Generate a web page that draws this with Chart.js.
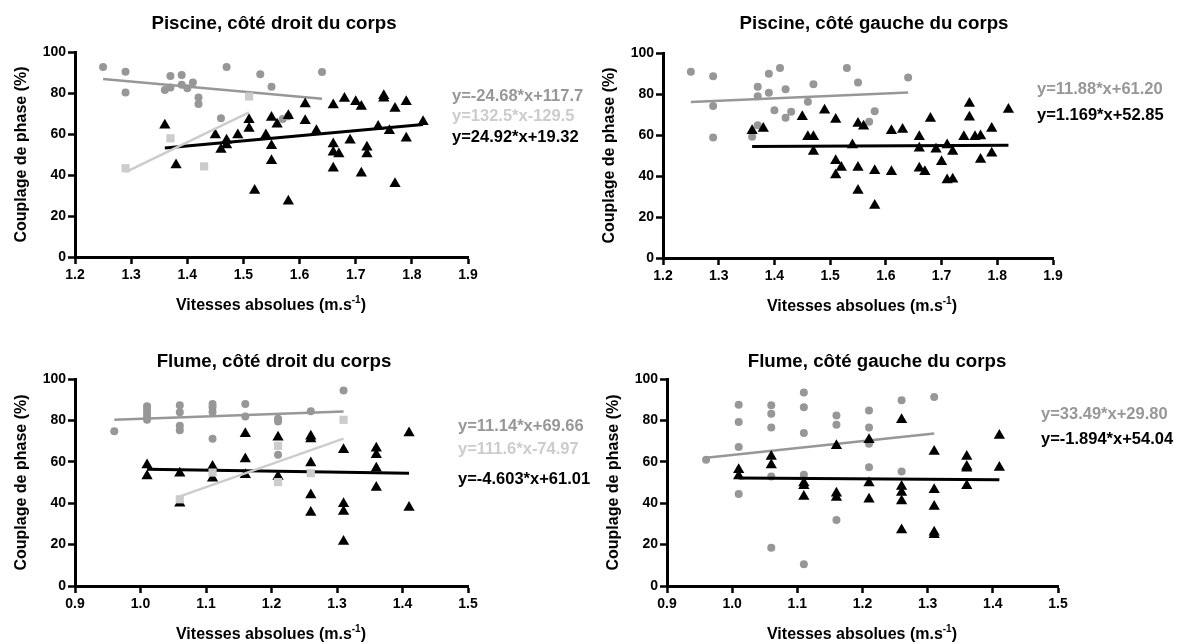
<!DOCTYPE html>
<html><head><meta charset="utf-8">
<script src="https://cdn.jsdelivr.net/npm/chart.js@4.4.1/dist/chart.umd.min.js"></script>
<style>
html,body{margin:0;padding:0;background:#fff;}
#wrap{position:relative;width:1181px;height:644px;overflow:hidden;background:#fff;}
canvas{position:absolute;}
</style></head><body>
<div id="wrap">
<canvas id="c1" width="640" height="322" style="left:0;top:0"></canvas>
<canvas id="c2" width="591" height="322" style="left:590px;top:0"></canvas>
<canvas id="c3" width="640" height="322" style="left:0;top:322px"></canvas>
<canvas id="c4" width="591" height="322" style="left:590px;top:322px"></canvas>
</div>
<script>
// ---------- DATA ----------
// Piscine, côté droit du corps
const pdCircX = [1.25,1.29,1.29,1.36,1.37,1.37,1.39,1.39,1.40,1.41,1.42,1.42,1.46,1.47,1.53,1.55,1.57,1.58,1.64];
const pdCircY = [92.7,90.4,80.2,81.5,88.3,82.7,88.8,84,82.3,85.1,77.8,74.6,67.7,92.7,89.1,83.1,67.3,68.6,90.3];
const pdSqX = [1.29,1.37,1.43,1.51];
const pdSqY = [43.3,57.9,44.2,78.3];
const pdTriX = [1.36,1.38,1.45,1.46,1.47,1.47,1.49,1.51,1.51,1.52,1.54,1.55,1.55,1.55,1.56,1.58,1.58,1.61,1.61,1.63,1.66,1.66,1.66,1.66,1.67,1.68,1.69,1.70,1.71,1.71,1.72,1.72,1.74,1.75,1.75,1.76,1.77,1.77,1.79,1.79,1.82];
const pdTriY = [64.3,44.9,59.5,52.4,57,54.6,59.5,66.9,62.7,32.4,59.5,68.1,54.3,47,64.8,68.9,27.2,74.6,66.5,61.6,74.1,55.1,51.1,43.3,50.2,77.3,57,75.7,73.4,40.8,53.5,50.2,63.7,78.6,77.5,61.6,72.4,35.7,75.7,57.9,66];
const pdFitCirc = [[1.25,86.85],[1.64,77.23]];
const pdFitSq = [[1.29,41.43],[1.51,70.58]];
const pdFitTri = [[1.36,53.21],[1.82,64.67]];
const pdEq = ['y=-24.68*x+117.7','y=132.5*x-129.5','y=24.92*x+19.32'];

// Piscine, côté gauche du corps
const pgCircX = [1.25,1.29,1.29,1.29,1.36,1.37,1.37,1.37,1.39,1.39,1.40,1.41,1.42,1.42,1.43,1.46,1.47,1.53,1.55,1.57,1.58,1.64];
const pgCircY = [90.8,88.7,74.2,58.8,59.2,83.5,78.9,64.8,89.9,80.6,72.1,92.7,82.3,68.4,71.3,76.2,84.8,92.7,85.6,66.5,71.6,88];
const pgTriX = [1.36,1.38,1.45,1.46,1.47,1.47,1.49,1.51,1.51,1.51,1.52,1.54,1.55,1.55,1.55,1.56,1.58,1.58,1.61,1.61,1.63,1.66,1.66,1.66,1.67,1.68,1.69,1.70,1.71,1.71,1.72,1.72,1.74,1.75,1.75,1.76,1.77,1.77,1.79,1.79,1.82];
const pgTriY = [62.1,63.2,68.9,59.2,59.2,51.9,72.1,67.6,47.5,40.5,44.2,55.1,65.6,44.2,32.9,64.3,42.6,25.6,62.1,42.1,62.7,59.2,53.5,43.8,42.1,68.1,53,47,55.1,38.1,51.9,38.4,59.2,75.4,68.6,59.2,59.5,48.1,63.2,51.1,72.5];
const pgFitCirc = [[1.25,76.05],[1.64,80.68]];
const pgFitTri = [[1.36,54.44],[1.82,54.98]];
const pgEq = ['y=11.88*x+61.20','y=1.169*x+52.85'];

// Flume, côté droit du corps
const fdCircX = [0.96,1.01,1.01,1.01,1.01,1.01,1.06,1.06,1.06,1.06,1.11,1.11,1.11,1.11,1.16,1.16,1.21,1.21,1.21,1.26,1.31];
const fdCircY = [74.7,86.8,85.2,83.2,81.6,80.3,87.3,83.9,77.4,75.2,87.9,86.3,84,71.1,87.9,81.9,80.8,79.5,63.4,84.4,94.4];
const fdSqX = [1.06,1.11,1.21,1.21,1.26,1.31];
const fdSqY = [41.9,54.8,67.7,50.2,54.5,80.3];
const fdTriX = [1.01,1.01,1.06,1.06,1.11,1.11,1.16,1.16,1.16,1.21,1.21,1.26,1.26,1.26,1.26,1.26,1.31,1.31,1.31,1.31,1.36,1.36,1.36,1.36,1.41,1.41];
const fdTriY = [58.5,53.2,54.5,40,57.7,52.1,73.5,61.3,53.7,71.9,52.9,72.3,71,59.4,44,35.5,65.8,39.7,36,21.5,66.6,63.4,56.9,47.6,73.9,37.9];
const fdFitCirc = [[0.96,80.35],[1.31,84.25]];
const fdFitSq = [[1.06,43.33],[1.31,71.23]];
const fdFitTri = [[1.01,56.36],[1.41,54.52]];
const fdEq = ['y=11.14*x+69.66','y=111.6*x-74.97','y=-4.603*x+61.01'];

// Flume, côté gauche du corps
const fgCircX = [0.96,1.01,1.01,1.01,1.01,1.06,1.06,1.06,1.06,1.06,1.11,1.11,1.11,1.11,1.11,1.16,1.16,1.16,1.21,1.21,1.21,1.21,1.26,1.26,1.31];
const fgCircY = [61,87.6,79.2,67.1,44.4,87.3,83.2,76.6,52.9,18.5,93.5,86.3,73.9,53.7,10.5,82.4,77.9,31.9,84.8,76.6,68.7,57.4,89.7,55.3,91.3];
const fgTriX = [1.01,1.01,1.06,1.06,1.11,1.11,1.11,1.16,1.16,1.16,1.21,1.21,1.21,1.26,1.26,1.26,1.26,1.26,1.31,1.31,1.31,1.31,1.31,1.36,1.36,1.36,1.36,1.41,1.41];
const fgTriY = [56.1,53.2,62.6,58.5,49.7,48.4,43.2,67.7,44.8,42.7,70.6,49.7,41.9,80.3,48.1,45.2,41.1,27.1,65,46.5,38.4,26,24.7,62.6,57.7,56.9,48.4,72.7,57.3];
const fgFitCirc = [[0.96,61.95],[1.31,73.67]];
const fgFitTri = [[1.01,52.13],[1.41,51.37]];
const fgEq = ['y=33.49*x+29.80','y=-1.894*x+54.04'];

const titles = ['Piscine, côté droit du corps','Piscine, côté gauche du corps','Flume, côté droit du corps','Flume, côté gauche du corps'];
const yTitle = 'Couplage de phase (%)';
const xTitleMain = 'Vitesses absolues (m.s';
const xTitleSup = '-1';
const xTitleEnd = ')';

// ---------- STYLE ----------
const FAM = '"Liberation Sans", Arial, Helvetica, sans-serif';
const GRAY = '#979797', LIGHT = '#cccccc', BLACK = '#000000';
const tickFont = {family: FAM, size: 14, weight: 'bold'};

function pts(xs, ys){ return xs.map((x,i)=>({x:x, y:ys[i]})); }
function pairs(p){ return p.map(a=>({x:a[0], y:a[1]})); }

function textPlugin(o){
  return {
    id: 'txt',
    afterDraw(chart){
      const ctx = chart.ctx;
      ctx.save();
      ctx.fillStyle = '#000';
      ctx.textBaseline = 'alphabetic';
      // title
      ctx.font = 'bold 18.7px ' + FAM;
      ctx.textAlign = 'center';
      ctx.fillText(o.title, o.tx, o.ty + 0.358*18.7);
      // y title
      ctx.save();
      ctx.translate(o.yx, o.yy);
      ctx.rotate(-Math.PI/2);
      ctx.font = 'bold 16px ' + FAM;
      ctx.textAlign = 'center';
      ctx.fillText(yTitle, 0, 0.358*16);
      ctx.restore();
      // x title with superscript
      ctx.textAlign = 'left';
      ctx.font = 'bold 16px ' + FAM;
      const w1 = ctx.measureText(xTitleMain).width;
      const w3 = ctx.measureText(xTitleEnd).width;
      ctx.font = 'bold 10px ' + FAM;
      const w2 = ctx.measureText(xTitleSup).width;
      let sx = o.xx - (w1+w2+w3)/2;
      const base = o.xy + 0.358*16;
      ctx.font = 'bold 16px ' + FAM;
      ctx.fillText(xTitleMain, sx, base);
      ctx.font = 'bold 10px ' + FAM;
      ctx.fillText(xTitleSup, sx + w1, base - 6.5);
      ctx.font = 'bold 16px ' + FAM;
      ctx.fillText(xTitleEnd, sx + w1 + w2, base);
      // equations
      ctx.font = 'bold 16.5px ' + FAM;
      o.eqs.forEach((t,i)=>{
        ctx.fillStyle = o.eqColors[i];
        ctx.fillText(t, o.ex, o.ey[i] + 0.358*16.5);
      });
      ctx.restore();
    }
  };
}

function makeChart(id, cfg){
  const datasets = [];
  datasets.push({data: pts(cfg.circX, cfg.circY), pointStyle:'circle', pointRadius:4, pointHoverRadius:4, backgroundColor:GRAY, borderWidth:0, order:6});
  datasets.push({data: pairs(cfg.fitCirc), showLine:true, borderColor:GRAY, borderWidth:2.5, pointRadius:0, order:5});
  datasets.push({data: pts(cfg.triX, cfg.triY), pointStyle:'triangle', pointRadius:6.5, pointHoverRadius:6.5, backgroundColor:BLACK, borderWidth:0, order:4});
  datasets.push({data: pairs(cfg.fitTri), showLine:true, borderColor:BLACK, borderWidth:3, pointRadius:0, order:3});
  if (cfg.sqX){
    datasets.push({data: pts(cfg.sqX, cfg.sqY), pointStyle:'rect', pointRadius:5.8, pointHoverRadius:5.8, backgroundColor:LIGHT, borderWidth:0, order:2});
    datasets.push({data: pairs(cfg.fitSq), showLine:true, borderColor:LIGHT, borderWidth:2.5, pointRadius:0, order:1});
  }
  const XH = 30;
  new Chart(document.getElementById(id), {
    type: 'scatter',
    data: {datasets},
    options: {
      responsive: false,
      animation: false,
      events: [],
      layout: {padding: {left: 0, top: cfg.area.top, right: cfg.w - cfg.area.right, bottom: 322 - cfg.area.bottom - XH}},
      plugins: {legend:{display:false}, tooltip:{enabled:false}, title:{display:false}},
      scales: {
        x: {
          type:'linear', min: cfg.xmin, max: cfg.xmax,
          ticks: {stepSize:0.1, color:'#000', font: tickFont, padding:3, maxRotation:0, autoSkip:false,
                  callback: v => Number(v).toFixed(1)},
          grid: {drawOnChartArea:false, drawTicks:true, tickLength:7, tickWidth:2.5, tickColor:'#000'},
          border: {display:true, color:'#000', width:3},
          afterFit: s => { s.height = XH; }
        },
        y: {
          type:'linear', min:0, max:100,
          ticks: {stepSize:20, color:'#000', font: tickFont, padding:2, callback: v => String(Math.round(v))},
          grid: {drawOnChartArea:false, drawTicks:true, tickLength:7, tickWidth:2.5, tickColor:'#000'},
          border: {display:true, color:'#000', width:3},
          afterFit: s => { s.width = cfg.area.left; }
        }
      }
    },
    plugins: [textPlugin(cfg.text)]
  });
}

makeChart('c1', {
  w:640, xmin:1.2, xmax:1.9, area:{left:75, right:468, top:52, bottom:257},
  circX:pdCircX, circY:pdCircY, triX:pdTriX, triY:pdTriY, sqX:pdSqX, sqY:pdSqY,
  fitCirc:pdFitCirc, fitTri:pdFitTri, fitSq:pdFitSq,
  text:{title:titles[0], tx:274, ty:22, yx:20, yy:154.5, xx:271, xy:304,
        eqs:pdEq, eqColors:[GRAY, LIGHT, BLACK], ex:452, ey:[95,115,136]}
});
makeChart('c2', {
  w:591, xmin:1.2, xmax:1.9, area:{left:73, right:463, top:53, bottom:258},
  circX:pgCircX, circY:pgCircY, triX:pgTriX, triY:pgTriY,
  fitCirc:pgFitCirc, fitTri:pgFitTri,
  text:{title:titles[1], tx:284, ty:22, yx:18, yy:155.5, xx:272, xy:305,
        eqs:pgEq, eqColors:[GRAY, BLACK], ex:447, ey:[88,114]}
});
makeChart('c3', {
  w:640, xmin:0.9, xmax:1.5, area:{left:75, right:468, top:57, bottom:264},
  circX:fdCircX, circY:fdCircY, triX:fdTriX, triY:fdTriY, sqX:fdSqX, sqY:fdSqY,
  fitCirc:fdFitCirc, fitTri:fdFitTri, fitSq:fdFitSq,
  text:{title:titles[2], tx:274, ty:38, yx:20, yy:160.5, xx:271, xy:311,
        eqs:fdEq, eqColors:[GRAY, LIGHT, BLACK], ex:458, ey:[103,126,156]}
});
makeChart('c4', {
  w:591, xmin:0.9, xmax:1.5, area:{left:77, right:468, top:57, bottom:264},
  circX:fgCircX, circY:fgCircY, triX:fgTriX, triY:fgTriY,
  fitCirc:fgFitCirc, fitTri:fgFitTri,
  text:{title:titles[3], tx:287, ty:38, yx:22, yy:160.5, xx:272, xy:311,
        eqs:fgEq, eqColors:[GRAY, BLACK], ex:451, ey:[91,116]}
});
</script>
</body></html>
